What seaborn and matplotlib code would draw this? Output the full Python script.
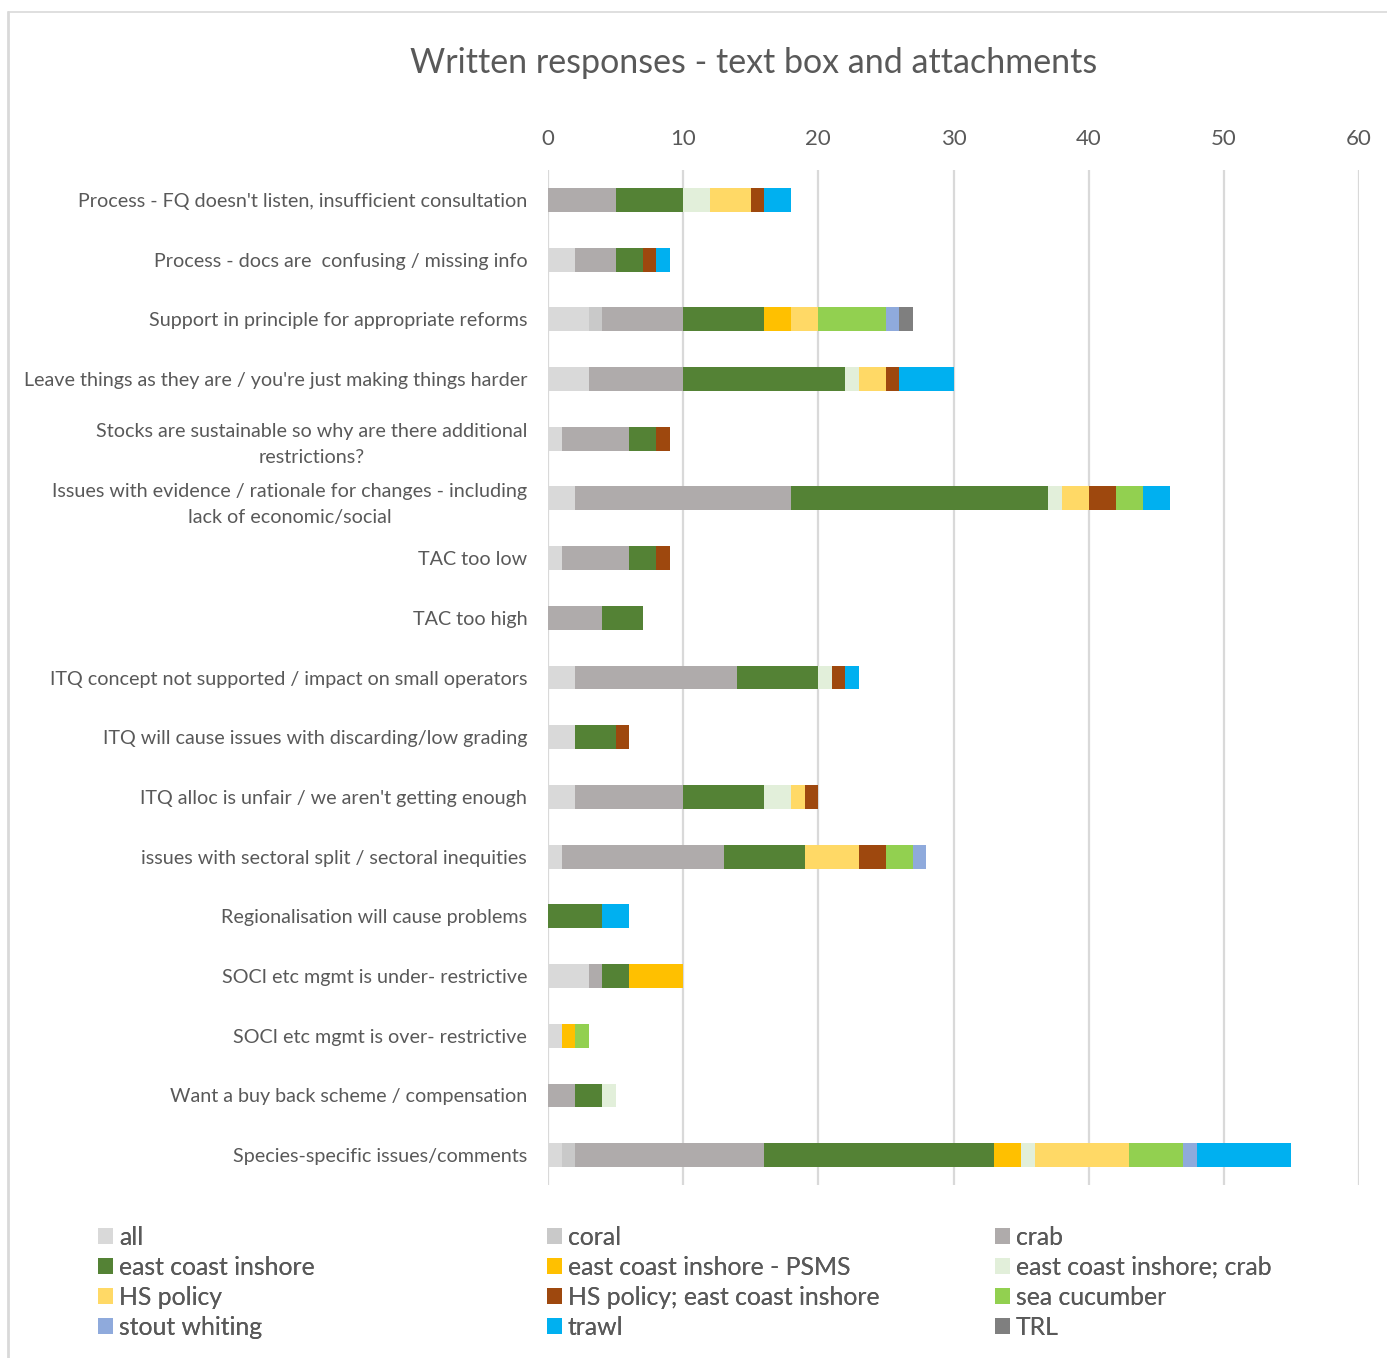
import numpy as np
import pandas as pd
import matplotlib
matplotlib.use("Agg")
import matplotlib.pyplot as plt
from matplotlib.patches import Patch
from matplotlib.lines import Line2D
import seaborn as sns

# Response themes (top to bottom)
categories = [
    "Process - FQ doesn't listen, insufficient consultation",
    "Process - docs are  confusing / missing info",
    "Support in principle for appropriate reforms",
    "Leave things as they are / you're just making things harder",
    "Stocks are sustainable so why are there additional\nrestrictions?",
    "Issues with evidence / rationale for changes - including\nlack of economic/social",
    "TAC too low",
    "TAC too high",
    "ITQ concept not supported / impact on small operators",
    "ITQ will cause issues with discarding/low grading",
    "ITQ alloc is unfair / we aren't getting enough",
    "issues with sectoral split / sectoral inequities",
    "Regionalisation will cause problems",
    "SOCI etc mgmt is under- restrictive",
    "SOCI etc mgmt is over- restrictive",
    "Want a buy back scheme / compensation",
    "Species-specific issues/comments",
]

series_names = [
    "all", "coral", "crab", "east coast inshore", "east coast inshore - PSMS",
    "east coast inshore; crab", "HS policy", "HS policy; east coast inshore",
    "sea cucumber", "stout whiting", "trawl", "TRL",
]

# Counts per stakeholder group, one value per theme
all_ = [0, 2, 3, 3, 1, 2, 1, 0, 2, 2, 2, 1, 0, 3, 1, 0, 1]
coral = [0, 0, 1, 0, 0, 0, 0, 0, 0, 0, 0, 0, 0, 0, 0, 0, 1]
crab = [5, 3, 6, 7, 5, 16, 5, 4, 12, 0, 8, 12, 0, 1, 0, 2, 14]
east_coast_inshore = [5, 2, 6, 12, 2, 19, 2, 3, 6, 3, 6, 6, 4, 2, 0, 2, 17]
eci_psms = [0, 0, 2, 0, 0, 0, 0, 0, 0, 0, 0, 0, 0, 4, 1, 0, 2]
eci_crab = [2, 0, 0, 1, 0, 1, 0, 0, 1, 0, 2, 0, 0, 0, 0, 1, 1]
hs_policy = [3, 0, 2, 2, 0, 2, 0, 0, 0, 0, 1, 4, 0, 0, 0, 0, 7]
hs_policy_eci = [1, 1, 0, 1, 1, 2, 1, 0, 1, 1, 1, 2, 0, 0, 0, 0, 0]
sea_cucumber = [0, 0, 5, 0, 0, 2, 0, 0, 0, 0, 0, 2, 0, 0, 1, 0, 4]
stout_whiting = [0, 0, 1, 0, 0, 0, 0, 0, 0, 0, 0, 1, 0, 0, 0, 0, 1]
trawl = [2, 1, 0, 4, 0, 2, 0, 0, 1, 0, 0, 0, 2, 0, 0, 0, 7]
trl = [0, 0, 1, 0, 0, 0, 0, 0, 0, 0, 0, 0, 0, 0, 0, 0, 0]

series_values = [all_, coral, crab, east_coast_inshore, eci_psms, eci_crab,
                 hs_policy, hs_policy_eci, sea_cucumber, stout_whiting, trawl, trl]

colors = ["#D9D9D9", "#C9C9C9", "#AFABAB", "#548235", "#FFC000", "#E2EFDA",
          "#FFD966", "#9E480E", "#92D050", "#8FAADC", "#00B0F0", "#7F7F7F"]

x_ticks = [0, 10, 20, 30, 40, 50, 60]

text_color = "#595959"
grid_color = "#D9D9D9"

sns.set_theme(style="white")
plt.rcParams["font.family"] = ["Lato", "DejaVu Sans"]

W, H = 1387, 1358
fig = plt.figure(figsize=(W / 100, H / 100), dpi=100)
ax = fig.add_axes([548 / W, 1 - 1185 / H, (1359 - 548) / W, (1185 - 170) / H])

df = pd.DataFrame(dict(zip(series_names, series_values)), index=categories)
cum = df.cumsum(axis=1)

# Stacked bars: draw cumulative totals from the outermost series inward
for name, color in reversed(list(zip(series_names, colors))):
    sns.barplot(x=cum[name].values, y=categories, color=color, orient="h",
                width=0.4, ax=ax, saturation=1, linewidth=0)

ax.set_xlim(0, 60)
ax.set_ylim(16.5, -0.5)
ax.set_xticks(x_ticks)
ax.xaxis.tick_top()
ax.set_xlabel("")
ax.set_ylabel("")
for s in ax.spines.values():
    s.set_visible(False)
ax.set_axisbelow(True)
ax.grid(axis="x", color=grid_color, linewidth=1.6)
ax.grid(axis="y", visible=False)
ax.tick_params(axis="x", length=0, pad=15, labelsize=16, labelcolor=text_color)
ax.tick_params(axis="y", length=0, pad=15, labelsize=14.2, labelcolor=text_color)
for lbl in ax.get_yticklabels():
    lbl.set_multialignment("center")
    lbl.set_linespacing(1.65)

fig.text(754 / W, 1 - 63 / H, "Written responses - text box and attachments",
         ha="center", va="center", fontsize=24.5, color=text_color)

# Legend: three columns, entries read row by row
handles = [Patch(facecolor=c, edgecolor="none", label=n) for n, c in zip(series_names, colors)]
col_x = [88, 537, 985]
for k, x0 in enumerate(col_x):
    idx = [k, k + 3, k + 6, k + 9]
    leg = fig.legend([handles[i] for i in idx], [series_names[i] for i in idx],
                     ncol=1, loc="upper left", bbox_to_anchor=(x0 / W, 1 - 1216 / H),
                     frameon=False, fontsize=17.8, labelcolor=text_color,
                     handlelength=0.6, handleheight=0.6, handletextpad=0.25,
                     labelspacing=0.28, borderaxespad=0)
    fig.add_artist(leg)

# Chart area frame (left and top edges)
fig.add_artist(Line2D([8 / W, 8 / W], [0, 1 - 12 / H], transform=fig.transFigure,
                      color=grid_color, linewidth=2))
fig.add_artist(Line2D([8 / W, 1], [1 - 12 / H, 1 - 12 / H], transform=fig.transFigure,
                      color=grid_color, linewidth=1.2))

fig.savefig("out.png", dpi=100)
